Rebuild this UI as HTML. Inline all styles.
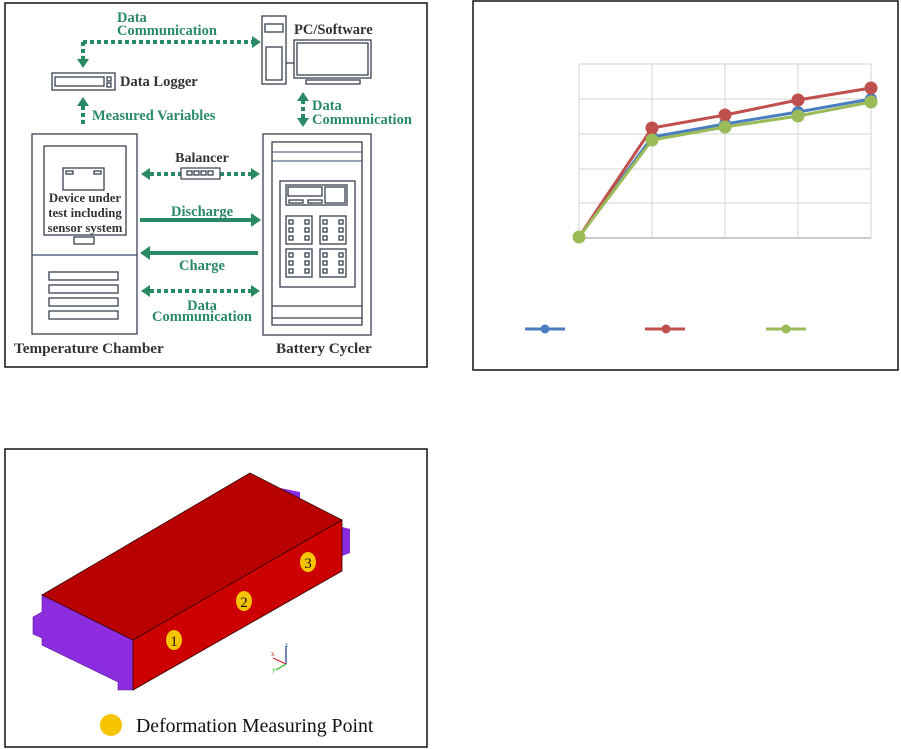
<!DOCTYPE html>
<html><head><meta charset="utf-8"><style>
body{margin:0;background:#fff;}
svg{display:block;}
.g{fill:#2a8a66;font-family:"Liberation Serif",serif;font-weight:bold;font-size:14.5px;}
.k{fill:#333;font-family:"Liberation Serif",serif;font-weight:bold;font-size:14.5px;}
.dl{stroke:#2a8a66;stroke-width:4;stroke-dasharray:4 3;fill:none;}
.sl{stroke:#2a8a66;stroke-width:4;fill:none;}
.ar{fill:#2a8a66;}
.b{fill:none;stroke:#3a4050;stroke-width:1.3;}
</style></head><body>
<svg width="901" height="749" viewBox="0 0 901 749" xmlns="http://www.w3.org/2000/svg">
<rect width="901" height="749" fill="#fff"/>
<!-- Panel 1 -->
<rect x="5" y="3" width="422" height="364" fill="#fff" stroke="#111" stroke-width="1.5"/>
<text class="g" x="117" y="22">Data</text>
<text class="g" x="117" y="35">Communication</text>
<path class="dl" d="M83,42 H252 M83,42 V60"/>
<polygon class="ar" points="252,36 261,42 252,48"/>
<polygon class="ar" points="77,59 89,59 83,68"/>
<rect x="52" y="73" width="63" height="17" class="b"/>
<rect x="55" y="77" width="49" height="9" class="b"/>
<rect x="107" y="77" width="4" height="4" class="b"/><rect x="107" y="83" width="4" height="4" class="b"/>
<text class="k" x="120" y="86">Data Logger</text>
<rect x="262" y="16" width="24" height="68" class="b"/>
<rect x="265" y="24" width="18" height="8" class="b"/>
<rect x="266" y="47" width="16" height="33" class="b"/>
<rect x="294" y="40" width="77" height="38" class="b"/>
<rect x="297" y="43" width="71" height="32" class="b"/>
<rect x="306" y="80" width="54" height="4" class="b"/>
<line x1="286" y1="63" x2="294" y2="63" class="b"/>
<text class="k" x="294" y="34">PC/Software</text>
<path class="dl" d="M303,100 V120"/>
<polygon class="ar" points="297,101 309,101 303,92"/>
<polygon class="ar" points="297,118 309,118 303,127"/>
<text class="g" x="312" y="110">Data</text>
<text class="g" x="312" y="124">Communication</text>
<path class="dl" d="M83,106 V127"/>
<polygon class="ar" points="77,106 89,106 83,97"/>
<text class="g" x="92" y="120">Measured Variables</text>
<!-- chamber -->
<rect x="32" y="134" width="105" height="200" class="b"/>
<line x1="32" y1="255" x2="137" y2="255" stroke="#3a4a70" stroke-width="1.2"/>
<rect x="44" y="146" width="82" height="89" class="b"/>
<rect x="63" y="168" width="41" height="22" class="b"/>
<rect x="66" y="171" width="7" height="3" class="b"/><rect x="94" y="171" width="7" height="3" class="b"/>
<text class="k" x="85" y="202" text-anchor="middle" style="font-size:12.8px">Device under</text>
<text class="k" x="85" y="217" text-anchor="middle" style="font-size:12.8px">test including</text>
<text class="k" x="85" y="232" text-anchor="middle" style="font-size:12.8px">sensor system</text>
<rect x="74" y="237" width="20" height="7" class="b"/>
<rect x="49" y="272" width="69" height="8" class="b"/>
<rect x="49" y="285" width="69" height="8" class="b"/>
<rect x="49" y="298" width="69" height="8" class="b"/>
<rect x="49" y="311" width="69" height="8" class="b"/>
<!-- cycler -->
<rect x="263" y="134" width="108" height="201" class="b"/>
<rect x="272" y="142" width="90" height="183" class="b"/>
<line x1="272" y1="152" x2="362" y2="152" stroke="#3a4a70"/>
<line x1="272" y1="161" x2="362" y2="161" stroke="#3a4a70"/>
<line x1="272" y1="306" x2="362" y2="306" class="b"/>
<line x1="272" y1="318" x2="362" y2="318" class="b"/>
<rect x="280" y="181" width="75" height="106" class="b"/>
<rect x="286" y="185" width="61" height="20" class="b"/>
<rect x="288" y="187" width="34" height="9" class="b"/>
<rect x="325" y="187" width="20" height="16" class="b"/>
<rect x="289" y="200" width="14" height="3" class="b"/><rect x="308" y="200" width="14" height="3" class="b"/>
<g id="kp">
<rect x="286" y="216" width="26" height="28" class="b"/>
<rect x="289" y="220" width="4" height="4" class="b"/><rect x="305" y="220" width="4" height="4" class="b"/>
<rect x="289" y="228" width="4" height="4" class="b"/><rect x="305" y="228" width="4" height="4" class="b"/>
<rect x="289" y="236" width="4" height="4" class="b"/><rect x="305" y="236" width="4" height="4" class="b"/>
</g>
<use href="#kp" x="34"/><use href="#kp" y="33"/><use href="#kp" x="34" y="33"/>
<!-- middle connectors -->
<text class="k" x="202" y="162" text-anchor="middle" style="font-size:14px">Balancer</text>
<path class="dl" d="M150,174 H251"/>
<polygon class="ar" points="150,168 141,174 150,180"/>
<polygon class="ar" points="251,168 260,174 251,180"/>
<rect x="181" y="168" width="39" height="11" fill="#fff" stroke="#3a4050" stroke-width="1.2"/>
<rect x="187" y="171" width="5" height="4" class="b"/><rect x="194" y="171" width="5" height="4" class="b"/><rect x="201" y="171" width="5" height="4" class="b"/><rect x="208" y="171" width="5" height="4" class="b"/>
<text class="g" x="202" y="216" text-anchor="middle">Discharge</text>
<path class="sl" d="M140,220 H251"/>
<polygon class="ar" points="251,213 261,220 251,227"/>
<path class="sl" d="M150,253 H258"/>
<polygon class="ar" points="150,246 140,253 150,260"/>
<text class="g" x="202" y="270" text-anchor="middle">Charge</text>
<path class="dl" d="M150,291 H251"/>
<polygon class="ar" points="150,285 141,291 150,297"/>
<polygon class="ar" points="251,285 260,291 251,297"/>
<text class="g" x="202" y="310" text-anchor="middle">Data</text>
<text class="g" x="202" y="321" text-anchor="middle">Communication</text>
<text class="k" x="14" y="353" style="font-size:15.2px">Temperature Chamber</text>
<text class="k" x="276" y="353" style="font-size:15.2px">Battery Cycler</text>

<!-- Panel 2 -->
<rect x="473" y="1" width="425" height="369" fill="#fff" stroke="#111" stroke-width="1.5"/>
<g stroke="#d4d4d4" stroke-width="1">
<line x1="579" y1="64" x2="871" y2="64"/><line x1="579" y1="99" x2="871" y2="99"/><line x1="579" y1="134" x2="871" y2="134"/><line x1="579" y1="169" x2="871" y2="169"/><line x1="579" y1="203" x2="871" y2="203"/>
<line x1="579" y1="64" x2="579" y2="238"/><line x1="652" y1="64" x2="652" y2="238"/><line x1="725" y1="64" x2="725" y2="238"/><line x1="798" y1="64" x2="798" y2="238"/><line x1="871" y1="64" x2="871" y2="238"/>
</g>
<line x1="579" y1="238" x2="871" y2="238" stroke="#bbb" stroke-width="1.5"/>
<polyline points="579,237 652,137 725,124 798,112 871,99" fill="none" stroke="#4a7ebf" stroke-width="3"/>
<g fill="#4a7ebf"><circle cx="652" cy="137" r="6"/><circle cx="725" cy="124" r="6"/><circle cx="798" cy="112" r="6"/><circle cx="871" cy="99" r="6"/></g>
<polyline points="579,237 652,128 725,115 798,100 871,88" fill="none" stroke="#c0504d" stroke-width="3"/>
<g fill="#c0504d"><circle cx="652" cy="128" r="6.5"/><circle cx="725" cy="115" r="6.5"/><circle cx="798" cy="100" r="6.5"/><circle cx="871" cy="88" r="6.5"/></g>
<polyline points="579,237 652,140 725,127 798,116 871,102" fill="none" stroke="#9bbb59" stroke-width="3"/>
<g fill="#9bbb59"><circle cx="579" cy="237" r="6.5"/><circle cx="652" cy="140" r="6.5"/><circle cx="725" cy="127" r="6.5"/><circle cx="798" cy="116" r="6.5"/><circle cx="871" cy="102" r="6.5"/></g>
<line x1="525" y1="329" x2="565" y2="329" stroke="#4a7ebf" stroke-width="3"/><circle cx="545" cy="329" r="4.5" fill="#4a7ebf"/>
<line x1="645" y1="329" x2="685" y2="329" stroke="#c0504d" stroke-width="3"/><circle cx="666" cy="329" r="4.5" fill="#c0504d"/>
<line x1="766" y1="329" x2="806" y2="329" stroke="#9bbb59" stroke-width="3"/><circle cx="786" cy="329" r="4.5" fill="#9bbb59"/>

<!-- Panel 3 -->
<rect x="5" y="449" width="422" height="298" fill="#fff" stroke="#111" stroke-width="1.5"/>
<polygon points="342,527 350,529 350,553 342,556" fill="#8a2be2"/>
<polygon points="280,488 300,492 300,500 290,498" fill="#8a2be2"/>
<polygon points="42,595 133,640 133,690 118,690 118,682 42,645 42,638 33,634 33,617 42,612" fill="#8c2ee0" stroke="#5a1a9a" stroke-width="0.6"/>
<polygon points="42,595 250,473 342,520 133,640" fill="#b80000" stroke="#300" stroke-width="0.8"/>
<polygon points="133,640 342,520 342,571 133,690" fill="#cc0000" stroke="#300" stroke-width="0.8"/>
<g fill="#f7c400"><ellipse cx="174" cy="640" rx="8" ry="10"/><ellipse cx="244" cy="601" rx="8" ry="10"/><ellipse cx="308" cy="562" rx="8" ry="10"/></g>
<g font-family="Liberation Serif,serif" font-size="15" fill="#111" text-anchor="middle"><text x="174" y="646">1</text><text x="244" y="607">2</text><text x="308" y="568">3</text></g>
<g stroke-width="1.2"><line x1="286" y1="664" x2="286" y2="646" stroke="#138"/><line x1="286" y1="664" x2="273" y2="658" stroke="#c22"/><line x1="286" y1="664" x2="276" y2="670" stroke="#2b2"/></g>
<text x="285" y="647" font-size="7" fill="#168">z</text><text x="271" y="656" font-size="7" fill="#c22">x</text><text x="272" y="672" font-size="7" fill="#2b2">y</text>
<circle cx="111" cy="725" r="11" fill="#f7c400"/>
<text x="136" y="732" font-family="Liberation Serif,serif" font-size="19.8" fill="#111">Deformation Measuring Point</text>
</svg>
</body></html>
